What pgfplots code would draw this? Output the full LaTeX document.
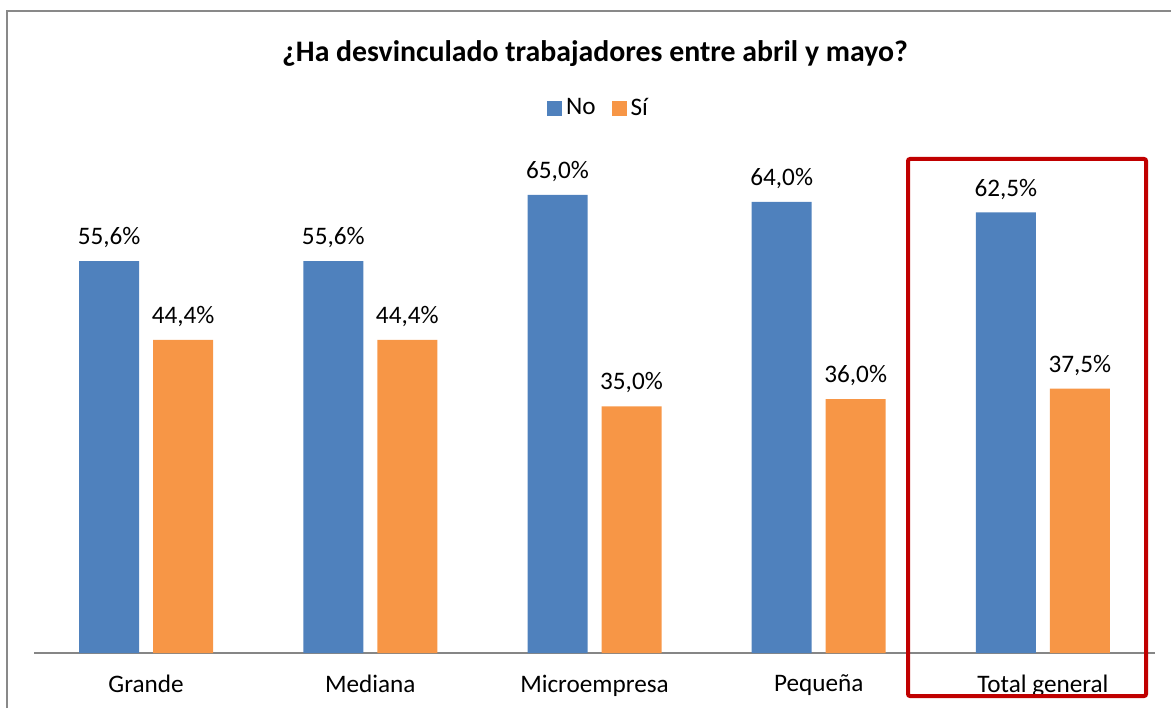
\documentclass[border=0pt]{standalone}
\usepackage{pgfplots}
\pgfplotsset{compat=1.18}
\usepackage{fontspec}
\setmainfont{Carlito}
\definecolor{cNo}{HTML}{4F81BD}
\definecolor{cSi}{HTML}{F79646}
\definecolor{cAxis}{HTML}{868686}
\definecolor{cFrame}{HTML}{898989}
\definecolor{cBox}{HTML}{C00000}

\begin{document}
\begin{tikzpicture}
\path[use as bounding box] (0,0) rectangle (585.5pt,354pt);
\draw[cFrame, line width=0.8pt] (3.5pt,0) -- (3.5pt,348.5pt) -- (585.5pt,348.5pt);
\node[font=\fontsize{14.9}{17}\selectfont\bfseries] at (297.5pt,327pt) {¿Ha desvinculado trabajadores entre abril y mayo?};
\begin{axis}[
    at={(17pt,27.5pt)}, anchor=south west,
    scale only axis,
    width=560.5pt, height=246.75pt,
    ybar=7pt, bar width=30pt,
    xmin=-0.5, xmax=4.5, ymin=0, ymax=70,
    xtick=data,
    xticklabels={Grande,Mediana,Microempresa,Pequeña,Total general},
    major tick length=0pt,
    axis x line=bottom, axis y line=none,
    axis line style={cAxis, line width=0.75pt, -},
    x tick label style={font=\fontsize{12.6}{15}\selectfont, yshift=-7.5pt},
    /pgf/number format/.cd, use comma, fixed, fixed zerofill, precision=1, assume math mode=true,
    /pgfplots/.cd,
    nodes near coords={\pgfmathprintnumber{\pgfplotspointmeta}\%},
    every node near coord/.append style={font=\fontsize{12.6}{15}\selectfont, yshift=3pt},
    legend style={at={(0.5,1)}, anchor=center, xshift=2.5pt, yshift=25.75pt,
        draw=none, fill=none, legend columns=2, font=\fontsize{12.6}{15}\selectfont,
        /tikz/every even column/.append style={column sep=6pt}},
    legend image code/.code={\fill[#1] (0pt,-3.75pt) rectangle (7.5pt,3.75pt);},
]
\addplot[fill=cNo, draw=none] coordinates {(0,55.6)(1,55.6)(2,65.0)(3,64.0)(4,62.5)};
\addlegendentry{No}
\addplot[fill=cSi, draw=none] coordinates {(0,44.4)(1,44.4)(2,35.0)(3,36.0)(4,37.5)};
\addlegendentry{Sí}
\end{axis}
\draw[cBox, line width=2pt, rounded corners=1pt] (454pt,6pt) rectangle (573pt,274.5pt);
\end{tikzpicture}
\end{document}
